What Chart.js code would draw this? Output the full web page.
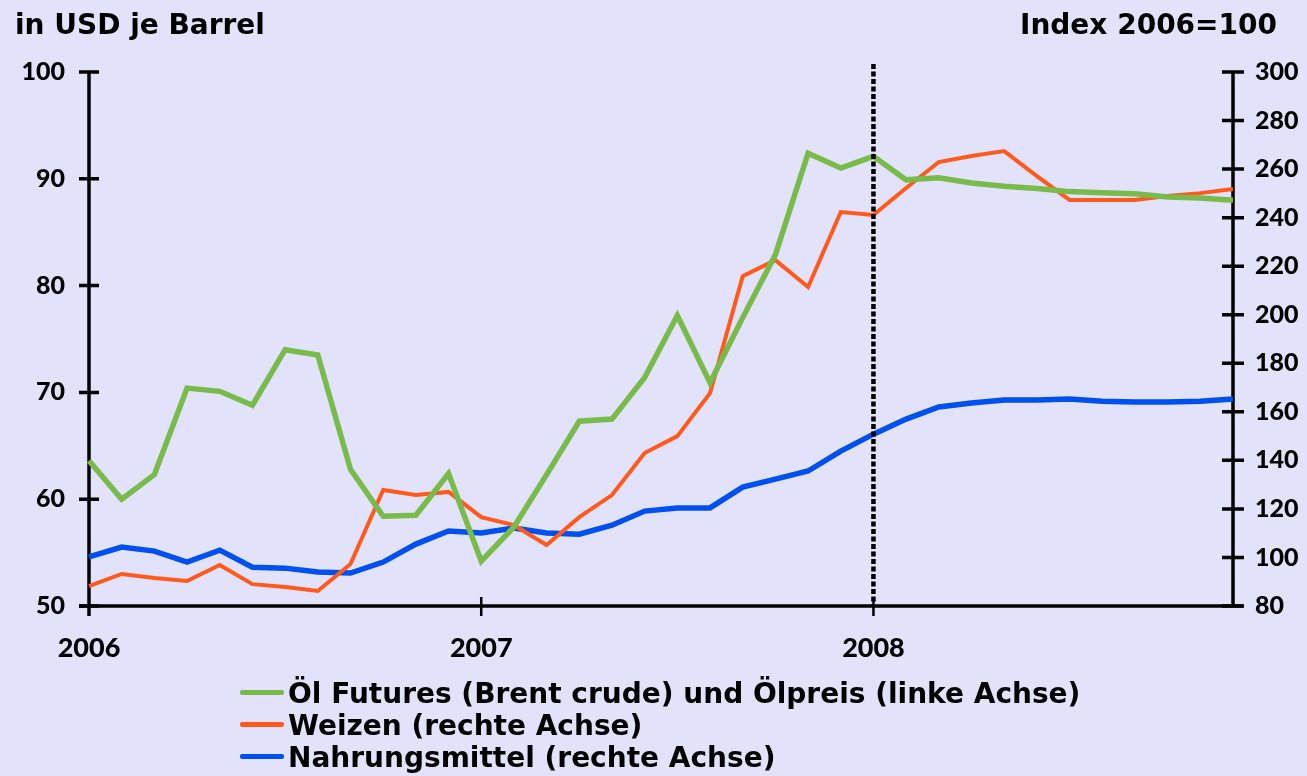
<!DOCTYPE html>
<html>
<head>
<meta charset="utf-8">
<script src="https://cdn.jsdelivr.net/npm/chart.js"></script>
<style>
  body { margin: 0; background: #e2e2fb; }
  #wrap { position: relative; width: 1307px; height: 776px; overflow: hidden; font-family: "DejaVu Sans", sans-serif; font-weight: 700; color: #000; }
  canvas { position: absolute; left: 0; top: 0; }
  .title { position: absolute; font-size: 28px; line-height: 1.2; white-space: nowrap; }
  #legend { position: absolute; left: 240px; top: 677px; }
  .row { position: absolute; left: 0; white-space: nowrap; font-size: 28px; line-height: 1.2; }
  .row span.swatch { position: absolute; left: 0; width: 44px; height: 5px; border-radius: 2px; }
  .row span.txt { position: absolute; left: 48px; top: 0; }
</style>
</head>
<body>
<div id="wrap">
  <canvas id="chart" width="1307" height="776"></canvas>
  <div class="title" style="left:15px; top:8px;">in USD je Barrel</div>
  <div class="title" style="right:30px; top:8px;">Index 2006=100</div>
  <div id="legend"></div>
</div>
<script>
// monthly, Jan 2006 - Dec 2008
const months = [
  '2006-01','2006-02','2006-03','2006-04','2006-05','2006-06','2006-07','2006-08','2006-09','2006-10','2006-11','2006-12',
  '2007-01','2007-02','2007-03','2007-04','2007-05','2007-06','2007-07','2007-08','2007-09','2007-10','2007-11','2007-12',
  '2008-01','2008-02','2008-03','2008-04','2008-05','2008-06','2008-07','2008-08','2008-09','2008-10','2008-11','2008-12'
];
const yearTicks = ['2006', '2007', '2008'];

// linke Achse, USD je Barrel
const oil = [
  63.6, 60.0, 62.3, 70.4, 70.1, 68.8, 74.0, 73.5, 62.8, 58.4, 58.5, 62.4,
  54.2, 57.4, 62.3, 67.3, 67.5, 71.4, 77.2, 70.9, 77.0, 82.9, 92.4, 91.0,
  92.1, 89.9, 90.1, 89.6, 89.3, 89.1, 88.8, 88.7, 88.6, 88.3, 88.2, 88.0
];
// rechte Achse, Index 2006=100
const wheat = [
  88.2, 93.2, 91.5, 90.3, 96.9, 89.0, 87.8, 86.2, 97.3, 127.8, 125.7, 127.0,
  116.6, 113.3, 105.1, 116.6, 125.7, 143.0, 150.0, 167.7, 215.9, 222.5, 211.4, 242.3,
  241.1, 252.2, 262.9, 265.4, 267.4, 257.1, 247.3, 247.3, 247.3, 248.9, 250.1, 251.8
];
const food = [
  100.2, 104.3, 102.6, 98.1, 103.0, 96.0, 95.6, 94.0, 93.6, 98.1, 105.5, 110.9,
  110.1, 112.1, 110.1, 109.6, 113.3, 119.1, 120.4, 120.4, 129.0, 132.3, 135.6, 143.8,
  150.8, 157.0, 162.0, 163.6, 164.9, 164.9, 165.3, 164.4, 164.0, 164.0, 164.4, 165.3
];

const seriesNames = [
  'Öl Futures (Brent crude) und Ölpreis (linke Achse)',
  'Weizen (rechte Achse)',
  'Nahrungsmittel (rechte Achse)'
];
const seriesColors = ['#78bb4a', '#ff5a1c', '#0050f0'];

const tickFont = { family: 'Lato', weight: 900, size: 25 };

// axis lines and crossing tick marks, drawn by hand like the original
const axesPlugin = {
  id: 'axes',
  beforeDatasetsDraw(chart) {
    const ctx = chart.ctx;
    const x = chart.scales.x, yl = chart.scales.y, yr = chart.scales.y2;
    const a = chart.chartArea;
    ctx.save();
    ctx.strokeStyle = '#000';
    ctx.lineWidth = 3.5;
    ctx.beginPath();
    ctx.moveTo(a.left, a.top); ctx.lineTo(a.left, a.bottom + 10);
    ctx.moveTo(a.right, a.top); ctx.lineTo(a.right, a.bottom);
    ctx.moveTo(a.left - 10, a.bottom); ctx.lineTo(a.right + 10, a.bottom);
    ctx.stroke();
    ctx.beginPath();
    yl.ticks.forEach(t => {
      const py = yl.getPixelForValue(t.value);
      ctx.moveTo(a.left - 10, py); ctx.lineTo(a.left + 10, py);
    });
    yr.ticks.forEach(t => {
      const py = yr.getPixelForValue(t.value);
      ctx.moveTo(a.right - 11, py); ctx.lineTo(a.right + 11, py);
    });
    ctx.stroke();
    ctx.lineWidth = 2.5;
    ctx.beginPath();
    [12, 24].forEach(i => {
      const px = x.getPixelForValue(i);
      ctx.moveTo(px, a.bottom - 9); ctx.lineTo(px, a.bottom + 10);
    });
    ctx.stroke();
    ctx.restore();
  },
  afterDatasetsDraw(chart) {
    // dotted marker at Jan 2008
    const ctx = chart.ctx;
    const px = chart.scales.x.getPixelForValue(24);
    ctx.save();
    ctx.strokeStyle = '#000';
    ctx.lineWidth = 4.5;
    ctx.setLineDash([5, 2.5]);
    ctx.beginPath();
    ctx.moveTo(px, chart.chartArea.top - 8);
    ctx.lineTo(px, chart.chartArea.bottom);
    ctx.stroke();
    ctx.restore();
  }
};

new Chart(document.getElementById('chart'), {
  type: 'line',
  data: {
    labels: months,
    datasets: [
      { label: seriesNames[0], data: oil, yAxisID: 'y', borderColor: seriesColors[0], borderWidth: 5.5 },
      { label: seriesNames[1], data: wheat, yAxisID: 'y2', borderColor: seriesColors[1], borderWidth: 4 },
      { label: seriesNames[2], data: food, yAxisID: 'y2', borderColor: seriesColors[2], borderWidth: 5.5 }
    ]
  },
  options: {
    responsive: false,
    animation: false,
    layout: { padding: { top: 72, left: 0, right: 0, bottom: 0 } },
    elements: { point: { radius: 0 }, line: { tension: 0, borderCapStyle: 'butt', borderJoinStyle: 'miter' } },
    plugins: { legend: { display: false }, tooltip: { enabled: false } },
    scales: {
      x: {
        offset: false,
        grid: { display: false, drawTicks: false },
        border: { display: false },
        ticks: {
          autoSkip: false, maxRotation: 0, padding: 26, color: '#000',
          font: { family: 'Lato', weight: 900, size: 27 },
          callback: (v, i) => (i % 12 === 0 ? yearTicks[i / 12] : '')
        },
        afterFit: s => { s.height = 170; }
      },
      y: {
        position: 'left', min: 50, max: 100,
        grid: { display: false, drawTicks: false },
        border: { display: false },
        ticks: { stepSize: 10, padding: 24, color: '#000', font: tickFont },
        afterFit: s => { s.width = 89; }
      },
      y2: {
        position: 'right', min: 80, max: 300,
        grid: { display: false, drawTicks: false },
        border: { display: false },
        ticks: { stepSize: 20, padding: 22, color: '#000', font: tickFont },
        afterFit: s => { s.width = 74; }
      }
    }
  },
  plugins: [axesPlugin]
});

// legend built from the series arrays
const legend = document.getElementById('legend');
seriesNames.forEach((name, i) => {
  const row = document.createElement('div');
  row.className = 'row';
  row.style.top = (i * 32) + 'px';
  row.innerHTML = '<span class="swatch" style="top:13px;background:' + seriesColors[i] + '"></span><span class="txt"></span>';
  row.querySelector('.txt').textContent = name;
  legend.appendChild(row);
});
</script>
</body>
</html>
